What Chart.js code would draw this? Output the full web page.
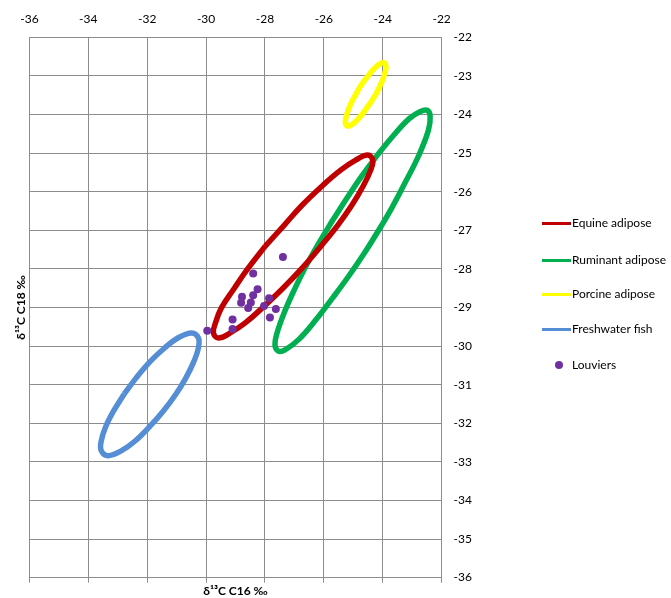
<!DOCTYPE html>
<html>
<head>
<meta charset="utf-8">
<script src="https://cdn.jsdelivr.net/npm/chart.js@4.4.1/dist/chart.umd.min.js"></script>
<style>
body { margin: 0; background: #fff; }
#wrap { position: relative; width: 671px; height: 598px; font-family: Lato, "Open Sans", sans-serif; }
.key { position: absolute; left: 542px; height: 14px; font-size: 12px; line-height: 14px; color: #000; white-space: nowrap; }
.key .swatch { position: absolute; left: 0; top: 6px; width: 29px; height: 3px; }
.key .dot { position: absolute; left: 13px; top: 3px; width: 8px; height: 8px; border-radius: 50%; }
.key .lbl { position: absolute; left: 30px; top: 0; }
</style>
</head>
<body>
<div id="wrap">
  <canvas id="chart" width="671" height="598"></canvas>
  <div id="legend"></div>
</div>
<script>
// ellipse outlines (x = δ13C C16, y = δ13C C18)
const equineC16 = [-27.99, -28.57, -29.04, -29.48, -29.68, -29.75, -29.58, -29.18, -28.67, -28.09, -27.39, -26.74, -26.10, -25.53, -25.05, -24.65, -24.41, -24.34, -24.51, -24.92, -25.43, -26.03, -26.74, -27.35, -27.99];
const equineC18 = [-27.41, -27.98, -28.50, -29.01, -29.40, -29.66, -29.79, -29.66, -29.40, -29.01, -28.50, -27.98, -27.41, -26.87, -26.35, -25.83, -25.44, -25.18, -25.05, -25.18, -25.44, -25.83, -26.35, -26.87, -27.41];

const ruminantC16 = [-25.70, -26.17, -26.61, -27.01, -27.35, -27.59, -27.66, -27.55, -27.32, -26.84, -26.27, -25.70, -25.16, -24.65, -24.18, -23.70, -23.23, -22.79, -22.45, -22.39, -22.49, -22.72, -23.09, -23.60, -24.18, -24.72, -25.22, -25.70];
const ruminantC18 = [-26.74, -27.33, -27.93, -28.55, -29.14, -29.66, -29.97, -30.13, -30.10, -29.82, -29.32, -28.75, -28.19, -27.62, -27.05, -26.43, -25.75, -25.08, -24.41, -24.04, -23.89, -23.92, -24.10, -24.51, -25.05, -25.60, -26.17, -26.74];

const porcineC16 = [-24.92, -25.09, -25.22, -25.27, -25.19, -24.95, -24.70, -24.45, -24.24, -24.07, -23.94, -23.89, -23.97, -24.21, -24.46, -24.72, -24.92];
const porcineC18 = [-23.48, -23.73, -23.99, -24.20, -24.30, -24.20, -23.99, -23.73, -23.48, -23.22, -22.96, -22.75, -22.65, -22.75, -22.96, -23.22, -23.48];

const fishC16 = [-32.78, -33.14, -33.41, -33.56, -33.56, -33.33, -32.87, -32.41, -31.92, -31.45, -31.02, -30.69, -30.42, -30.26, -30.26, -30.49, -30.96, -31.41, -31.91, -32.38, -32.78];
const fishC18 = [-31.24, -31.68, -32.09, -32.46, -32.71, -32.84, -32.71, -32.46, -32.09, -31.68, -31.24, -30.83, -30.41, -30.05, -29.79, -29.66, -29.79, -30.05, -30.41, -30.83, -31.24];

// Louviers samples
const louviersC16 = [-27.39, -28.40, -28.25, -28.40, -28.78, -28.81, -28.48, -28.57, -27.86, -28.03, -27.63, -27.83, -29.10, -29.10, -29.96];
const louviersC18 = [-27.69, -28.12, -28.53, -28.68, -28.72, -28.88, -28.87, -29.01, -28.76, -28.96, -29.04, -29.26, -29.31, -29.56, -29.60];

const seriesNames = ['Equine adipose', 'Ruminant adipose', 'Porcine adipose', 'Freshwater fish', 'Louviers'];
const seriesColors = ['#c00000', '#00b050', '#ffff00', '#558ed5', '#7030a0'];

const xTicks = { min: -36, max: -22, step: 2 };
const yTicks = { min: -36, max: -22, step: 1 };

function pts(xs, ys){
    return xs.map((x, i) => ({ x: x, y: ys[i] }));
}

function outline(name, xs, ys, color, order){
    return {
        label: name,
        data: pts(xs, ys),
        showLine: true,
        borderColor: color,
        backgroundColor: color,
        borderWidth: 5.5,
        pointRadius: 0,
        tension: 0.4,
        fill: false,
        order: order
    };
}

const gridColor = '#8c8c8c';
const tickFont = { family: 'Lato', size: 12 };

new Chart(document.getElementById('chart'), {
    type: 'scatter',
    data: {
        datasets: [
            {
                label: seriesNames[4],
                data: pts(louviersC16, louviersC18),
                pointRadius: 4,
                pointBorderWidth: 0,
                backgroundColor: seriesColors[4],
                borderColor: seriesColors[4],
                order: 0
            },
            outline(seriesNames[0], equineC16, equineC18, seriesColors[0], 1),
            outline(seriesNames[1], ruminantC16, ruminantC18, seriesColors[1], 2),
            outline(seriesNames[2], porcineC16, porcineC18, seriesColors[2], 3),
            outline(seriesNames[3], fishC16, fishC18, seriesColors[3], 4)
        ]
    },
    options: {
        responsive: false,
        animation: false,
        devicePixelRatio: 1,
        layout: { padding: { top: 1, right: 187, bottom: 0, left: 0 } },
        plugins: { legend: { display: false }, tooltip: { enabled: false } },
        scales: {
            x: {
                type: 'linear', position: 'top',
                min: xTicks.min, max: xTicks.max,
                ticks: { stepSize: xTicks.step, padding: 11, color: '#000', font: tickFont },
                grid: { color: gridColor, drawTicks: false },
                border: { color: gridColor }
            },
            x2: {
                type: 'linear', position: 'bottom',
                min: xTicks.min, max: xTicks.max,
                ticks: { display: false, stepSize: xTicks.step },
                grid: { drawOnChartArea: false, tickLength: 5, color: gridColor },
                border: { color: gridColor },
                title: {
                    display: true, text: 'δ¹³C C16 ‰', color: '#000',
                    font: { family: 'Lato', size: 12, weight: 'bold' },
                    padding: { top: 1, bottom: 0 }
                }
            },
            y: {
                type: 'linear', position: 'right',
                min: yTicks.min, max: yTicks.max,
                ticks: { stepSize: yTicks.step, padding: 12, color: '#000', font: tickFont },
                grid: { color: gridColor, drawTicks: false },
                border: { color: gridColor }
            },
            y2: {
                type: 'linear', position: 'left',
                min: yTicks.min, max: yTicks.max,
                ticks: { display: false },
                grid: { drawOnChartArea: false, drawTicks: false },
                border: { display: false },
                title: {
                    display: true, text: 'δ¹³C C18 ‰', color: '#000',
                    font: { family: 'Lato', size: 12, weight: 'bold' },
                    padding: { top: 14, bottom: 1 }
                }
            }
        }
    }
});

// legend on the right
const legendTops = [216, 253, 287, 322, 358];
let legend = document.getElementById('legend');
seriesNames.forEach((name, i) => {
    let item = document.createElement('div');
    item.className = 'key';
    item.style.top = legendTops[i] + 'px';
    let mark = document.createElement('span');
    mark.className = i === 4 ? 'dot' : 'swatch';
    mark.style.background = seriesColors[i];
    let text = document.createElement('span');
    text.className = 'lbl';
    text.textContent = name;
    item.appendChild(mark);
    item.appendChild(text);
    legend.appendChild(item);
});
</script>
</body>
</html>
